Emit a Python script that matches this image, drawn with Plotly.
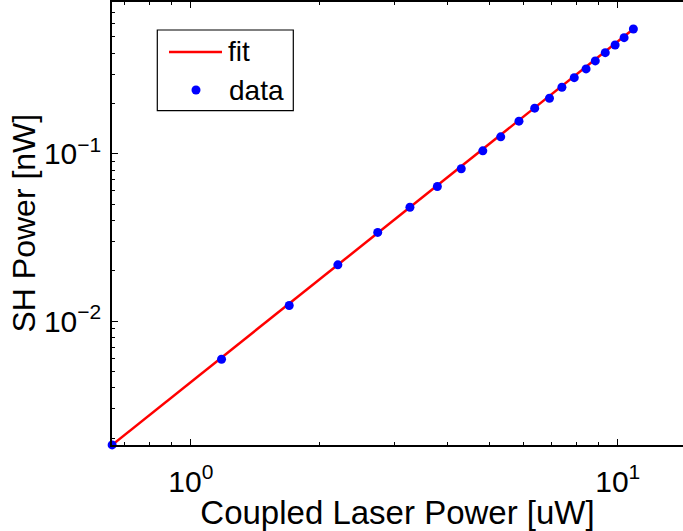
import math
import plotly.graph_objects as go

# ---- data ----
x_data = [0.654, 1.18, 1.70, 2.21, 2.74, 3.26, 3.78, 4.30, 4.83, 5.32, 5.87,
          6.39, 6.92, 7.40, 7.91, 8.43, 8.86, 9.35, 9.86, 10.35, 10.88]
y_data = [0.00182, 0.00592, 0.0124, 0.0217, 0.0339, 0.0479, 0.0638, 0.0814,
          0.1042, 0.1263, 0.1567, 0.1874, 0.2150, 0.2501, 0.2854, 0.3217,
          0.3591, 0.4025, 0.4473, 0.4946, 0.5575]
fit_x = [0.654, 10.88]
fit_y = [0.00182, 0.5575]

x_tick_vals = [1, 10]
x_tick_text = ["10<sup>0</sup>", "10<sup>1</sup>"]
y_tick_vals = [0.01, 0.1]
y_tick_text = ["10<sup>\u22122</sup>", "10<sup>\u22121</sup>"]
x_minor_vals = [0.7, 0.8, 0.9, 2, 3, 4, 5, 6, 7, 8, 9]
y_minor_vals = [0.002, 0.003, 0.004, 0.005, 0.006, 0.007, 0.008, 0.009,
                0.02, 0.03, 0.04, 0.05, 0.06, 0.07, 0.08, 0.09,
                0.2, 0.3, 0.4, 0.5, 0.6, 0.7, 0.8]
x_label = "Coupled Laser Power [uW]"
y_label = "SH Power [nW]"
legend_labels = ["fit", "data"]

# ---- layout geometry ----
W, H = 683, 531
ML, MR, MT, MB = 112, 0, 2, 86
PW, PH = W - ML - MR, H - MT - MB
FONT = "Liberation Sans, Arial, sans-serif"


def px_x(p):
    return (p - ML) / PW


def px_y(p):
    return (H - MB - p) / PH


fig = go.Figure()
fig.add_trace(go.Scatter(x=fit_x, y=fit_y, mode="lines", name=legend_labels[0],
                         line=dict(color="rgb(255,0,0)", width=2.5),
                         cliponaxis=False, showlegend=False))
fig.add_trace(go.Scatter(x=x_data, y=y_data, mode="markers", name=legend_labels[1],
                         marker=dict(color="rgb(0,0,255)", size=9),
                         cliponaxis=False, showlegend=False))

axis_common = dict(type="log", showgrid=False, zeroline=False, showline=True,
                   linecolor="black", linewidth=1.5, ticks="inside",
                   ticklen=6, tickwidth=1, tickcolor="black",
                   tickfont=dict(family=FONT, size=30, color="black"))

fig.update_xaxes(**axis_common, range=[-0.1847, 1.1529], mirror="ticks",
                 tickmode="array", tickvals=x_tick_vals, ticktext=x_tick_text,
                 ticklabelstandoff=9,
                 minor=dict(ticks="inside", ticklen=3, tickcolor="black",
                            tickwidth=1, tickvals=x_minor_vals, showgrid=False),
                 title=dict(text=x_label, font=dict(family=FONT, size=33, color="black"),
                            standoff=2))
fig.update_yaxes(**axis_common, range=[-2.7405, -0.0925], mirror=False,
                 tickmode="array", tickvals=y_tick_vals, ticktext=y_tick_text,
                 ticklabelstandoff=3,
                 minor=dict(ticks="inside", ticklen=3, tickcolor="black",
                            tickwidth=1, tickvals=y_minor_vals, showgrid=False))

# ---- legend drawn by hand (MATLAB style box) ----
shapes = [
    dict(type="rect", xref="paper", yref="paper",
         x0=px_x(157.3), x1=px_x(293.3), y0=px_y(110.7), y1=px_y(30),
         line=dict(color="black", width=1.2), fillcolor="white", layer="above"),
    dict(type="line", xref="paper", yref="paper",
         x0=px_x(169), x1=px_x(222), y0=px_y(52), y1=px_y(52),
         line=dict(color="rgb(255,0,0)", width=2.5), layer="above"),
    dict(type="circle", xref="paper", yref="paper",
         x0=px_x(191.5), x1=px_x(200.5), y0=px_y(94.5), y1=px_y(85.5),
         line=dict(color="rgb(0,0,255)", width=0), fillcolor="rgb(0,0,255)",
         layer="above"),
]
annotations = [
    dict(xref="paper", yref="paper", x=px_x(226), y=px_y(52), xanchor="left",
         yanchor="middle", text=legend_labels[0], showarrow=False,
         font=dict(family=FONT, size=28, color="black")),
    dict(xref="paper", yref="paper", x=px_x(227), y=px_y(90), xanchor="left",
         yanchor="middle", text=legend_labels[1], showarrow=False,
         font=dict(family=FONT, size=28, color="black")),
    # y-axis title
    dict(xref="paper", yref="paper", x=px_x(23), y=px_y(223.5), xanchor="center",
         yanchor="middle", text=y_label, textangle=-90, showarrow=False,
         font=dict(family=FONT, size=32, color="black")),
]

fig.update_layout(width=W, height=H, margin=dict(l=ML, r=MR, t=MT, b=MB, autoexpand=False),
                  paper_bgcolor="white", plot_bgcolor="white",
                  shapes=shapes, annotations=annotations, showlegend=False)

fig.write_html("out.html")
